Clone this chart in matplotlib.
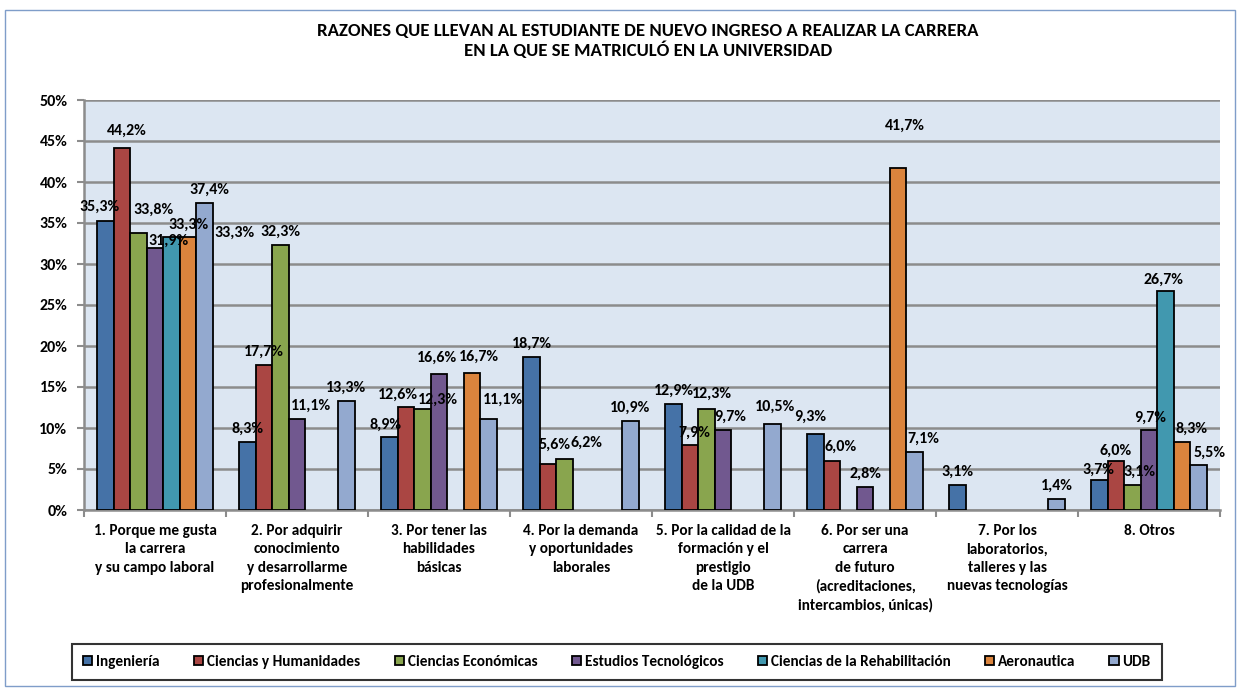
import matplotlib.pyplot as plt
import matplotlib.patches as mpatches
from matplotlib import font_manager
import numpy as np

# pick the first family that really ships a bold face
boldFamily = "DejaVu Sans"
for fam in ["Carlito", "Lato", "Open Sans", "Noto Sans", "Liberation Sans", "Roboto", "Inter"]:
	if any(f.name == fam and (f.weight in ("bold", 700) or str(f.weight) == "700") for f in font_manager.fontManager.ttflist):
		boldFamily = fam
		break
plt.rcParams["font.family"] = [boldFamily, "DejaVu Sans"]
plt.rcParams["font.weight"] = "bold"

# data
categories = [
	"1. Porque me gusta\nla carrera\ny su campo laboral",
	"2. Por adquirir\nconocimiento\ny desarrollarme\nprofesionalmente",
	"3. Por tener las\nhabilidades\nbásicas",
	"4. Por la demanda\ny oportunidades\nlaborales",
	"5. Por la calidad de la\nformación y el\nprestigio\nde la UDB",
	"6. Por ser una\ncarrera\nde futuro\n(acreditaciones,\nintercambios, únicas)",
	"7. Por los\nlaboratorios,\ntalleres y las\nnuevas tecnologías",
	"8. Otros",
]
seriesNames = ["Ingeniería", "Ciencias y Humanidades", "Ciencias Económicas",
	"Estudios Tecnológicos", "Ciencias de la Rehabilitación", "Aeronautica", "UDB"]
ingenieria = [35.3, 8.3, 8.9, 18.7, 12.9, 9.3, 3.1, 3.7]
humanidades = [44.2, 17.7, 12.6, 5.6, 7.9, 6.0, 0, 6.0]
economicas = [33.8, 32.3, 12.3, 6.2, 12.3, 0, 0, 3.1]
tecnologicos = [31.9, 11.1, 16.6, 0, 9.7, 2.8, 0, 9.7]
rehabilitacion = [33.3, 0, 0, 0, 0, 0, 0, 26.7]
aeronautica = [33.3, 0, 16.7, 0, 0, 41.7, 0, 8.3]
udb = [37.4, 13.3, 11.1, 10.9, 10.5, 7.1, 1.4, 5.5]
seriesValues = [ingenieria, humanidades, economicas, tecnologicos, rehabilitacion, aeronautica, udb]

colors = ["#4572A7", "#AA4643", "#89A54E", "#71588F", "#4198AF", "#DB843D", "#93A9CF"]
gridColor = "#8C8C8C"

# hand-moved data labels in the original: (series, category) -> (dx px, gap above bar px)
labelShift = {
	(0, 0): (-6, 14), (1, 0): (5, 17), (2, 0): (15, 23), (3, 0): (13, 8),
	(4, 0): (17, 12), (5, 0): (47, 4), (6, 0): (5, 14),
	(3, 1): (14, 13),
	(0, 2): (-4, 12), (1, 2): (-8, 12), (2, 2): (15, 9), (3, 2): (-2, 16),
	(5, 2): (7, 16), (6, 2): (15, 19),
	(1, 3): (7, 19), (2, 3): (22, 16),
	(1, 4): (4, 12), (2, 4): (5, 15), (3, 4): (7, 14), (6, 4): (3, 17),
	(0, 5): (-5, 17), (1, 5): (9, 14), (5, 5): (7, 42), (6, 5): (9, 13),
	(0, 7): (-1, 10), (1, 7): (0, 10), (2, 7): (7, 13), (3, 7): (1, 13),
	(4, 7): (-2, 11), (5, 7): (10, 13), (6, 7): (11, 12),
}

fig = plt.figure(figsize=(12.4, 6.88), dpi=100)
W, H = 1240, 688
ax = fig.add_axes([84 / W, 1 - 510 / H, (1220 - 84) / W, (510 - 100) / H])
ax.set_facecolor("#DCE6F2")

# outer chart frame
fig.patches.append(mpatches.Rectangle((5 / W, 2 / H), 1230 / W, (686 - 10) / H,
	transform=fig.transFigure, fill=False, edgecolor="#7F9DC9", linewidth=1))

x = np.arange(len(categories))
width = 0.116
for j, vals in enumerate(seriesValues):
	pos = x + (j - 3) * width
	vals = np.array(vals)
	for i in range(len(categories)):
		if vals[i] <= 0: continue
		rect = ax.bar(pos[i], vals[i], width, color=colors[j], edgecolor="black",
			linewidth=1.3, zorder=3)[0]
		(dx, gap) = labelShift.get((j, i), (0, 13))
		ax.annotate(("%.1f%%" % vals[i]).replace(".", ","),
			(rect.get_x() + rect.get_width() / 2., rect.get_height()),
			xytext=(dx, gap), textcoords="offset pixels",
			ha="center", va="center", fontsize=11.5, fontweight="bold", zorder=4)

ax.set_xlim(-0.5, len(categories) - 0.5)
ax.set_ylim(0, 50)
ax.set_yticks(np.arange(0, 51, 5))
ax.set_yticklabels(["%d%%" % v for v in range(0, 51, 5)], fontsize=11.5, fontweight="bold")
ax.yaxis.grid(True, color=gridColor, linewidth=1.8, zorder=0)
ax.set_axisbelow(True)

ax.set_xticks(x)
ax.set_xticklabels(categories, fontsize=11, fontweight="bold", linespacing=1.4, va="top")
ax.tick_params(axis="x", length=0, pad=10)
ax.set_xticks(np.arange(-0.5, len(categories)), minor=True)
ax.tick_params(axis="x", which="minor", length=5, color=gridColor, width=1.5)
ax.tick_params(axis="y", length=5, color=gridColor, width=1.5, pad=7)

for s in ["top", "right"]:
	ax.spines[s].set_visible(False)
for s in ["left", "bottom"]:
	ax.spines[s].set_color(gridColor)
	ax.spines[s].set_linewidth(1.8)

fig.text(648 / W, 1 - 41 / H,
	"RAZONES QUE LLEVAN AL ESTUDIANTE DE NUEVO INGRESO A REALIZAR LA CARRERA\nEN LA QUE SE MATRICULÓ EN LA UNIVERSIDAD",
	ha="center", va="center", fontsize=13.5, fontweight="bold", linespacing=1.2)

handles = [mpatches.Patch(facecolor=colors[j], edgecolor="black", linewidth=1.3) for j in range(len(seriesNames))]
leg = fig.legend(handles, seriesNames, loc="center", bbox_to_anchor=(617 / W, 1 - 662 / H),
	ncol=7, frameon=True, fancybox=False, handlelength=0.6, handleheight=0.6,
	handletextpad=0.25, columnspacing=2.25, borderpad=0.72, prop={"weight": "bold", "size": 11})
leg.get_frame().set_edgecolor("black")
leg.get_frame().set_linewidth(1.5)

fig.savefig("out.png", dpi=100)
